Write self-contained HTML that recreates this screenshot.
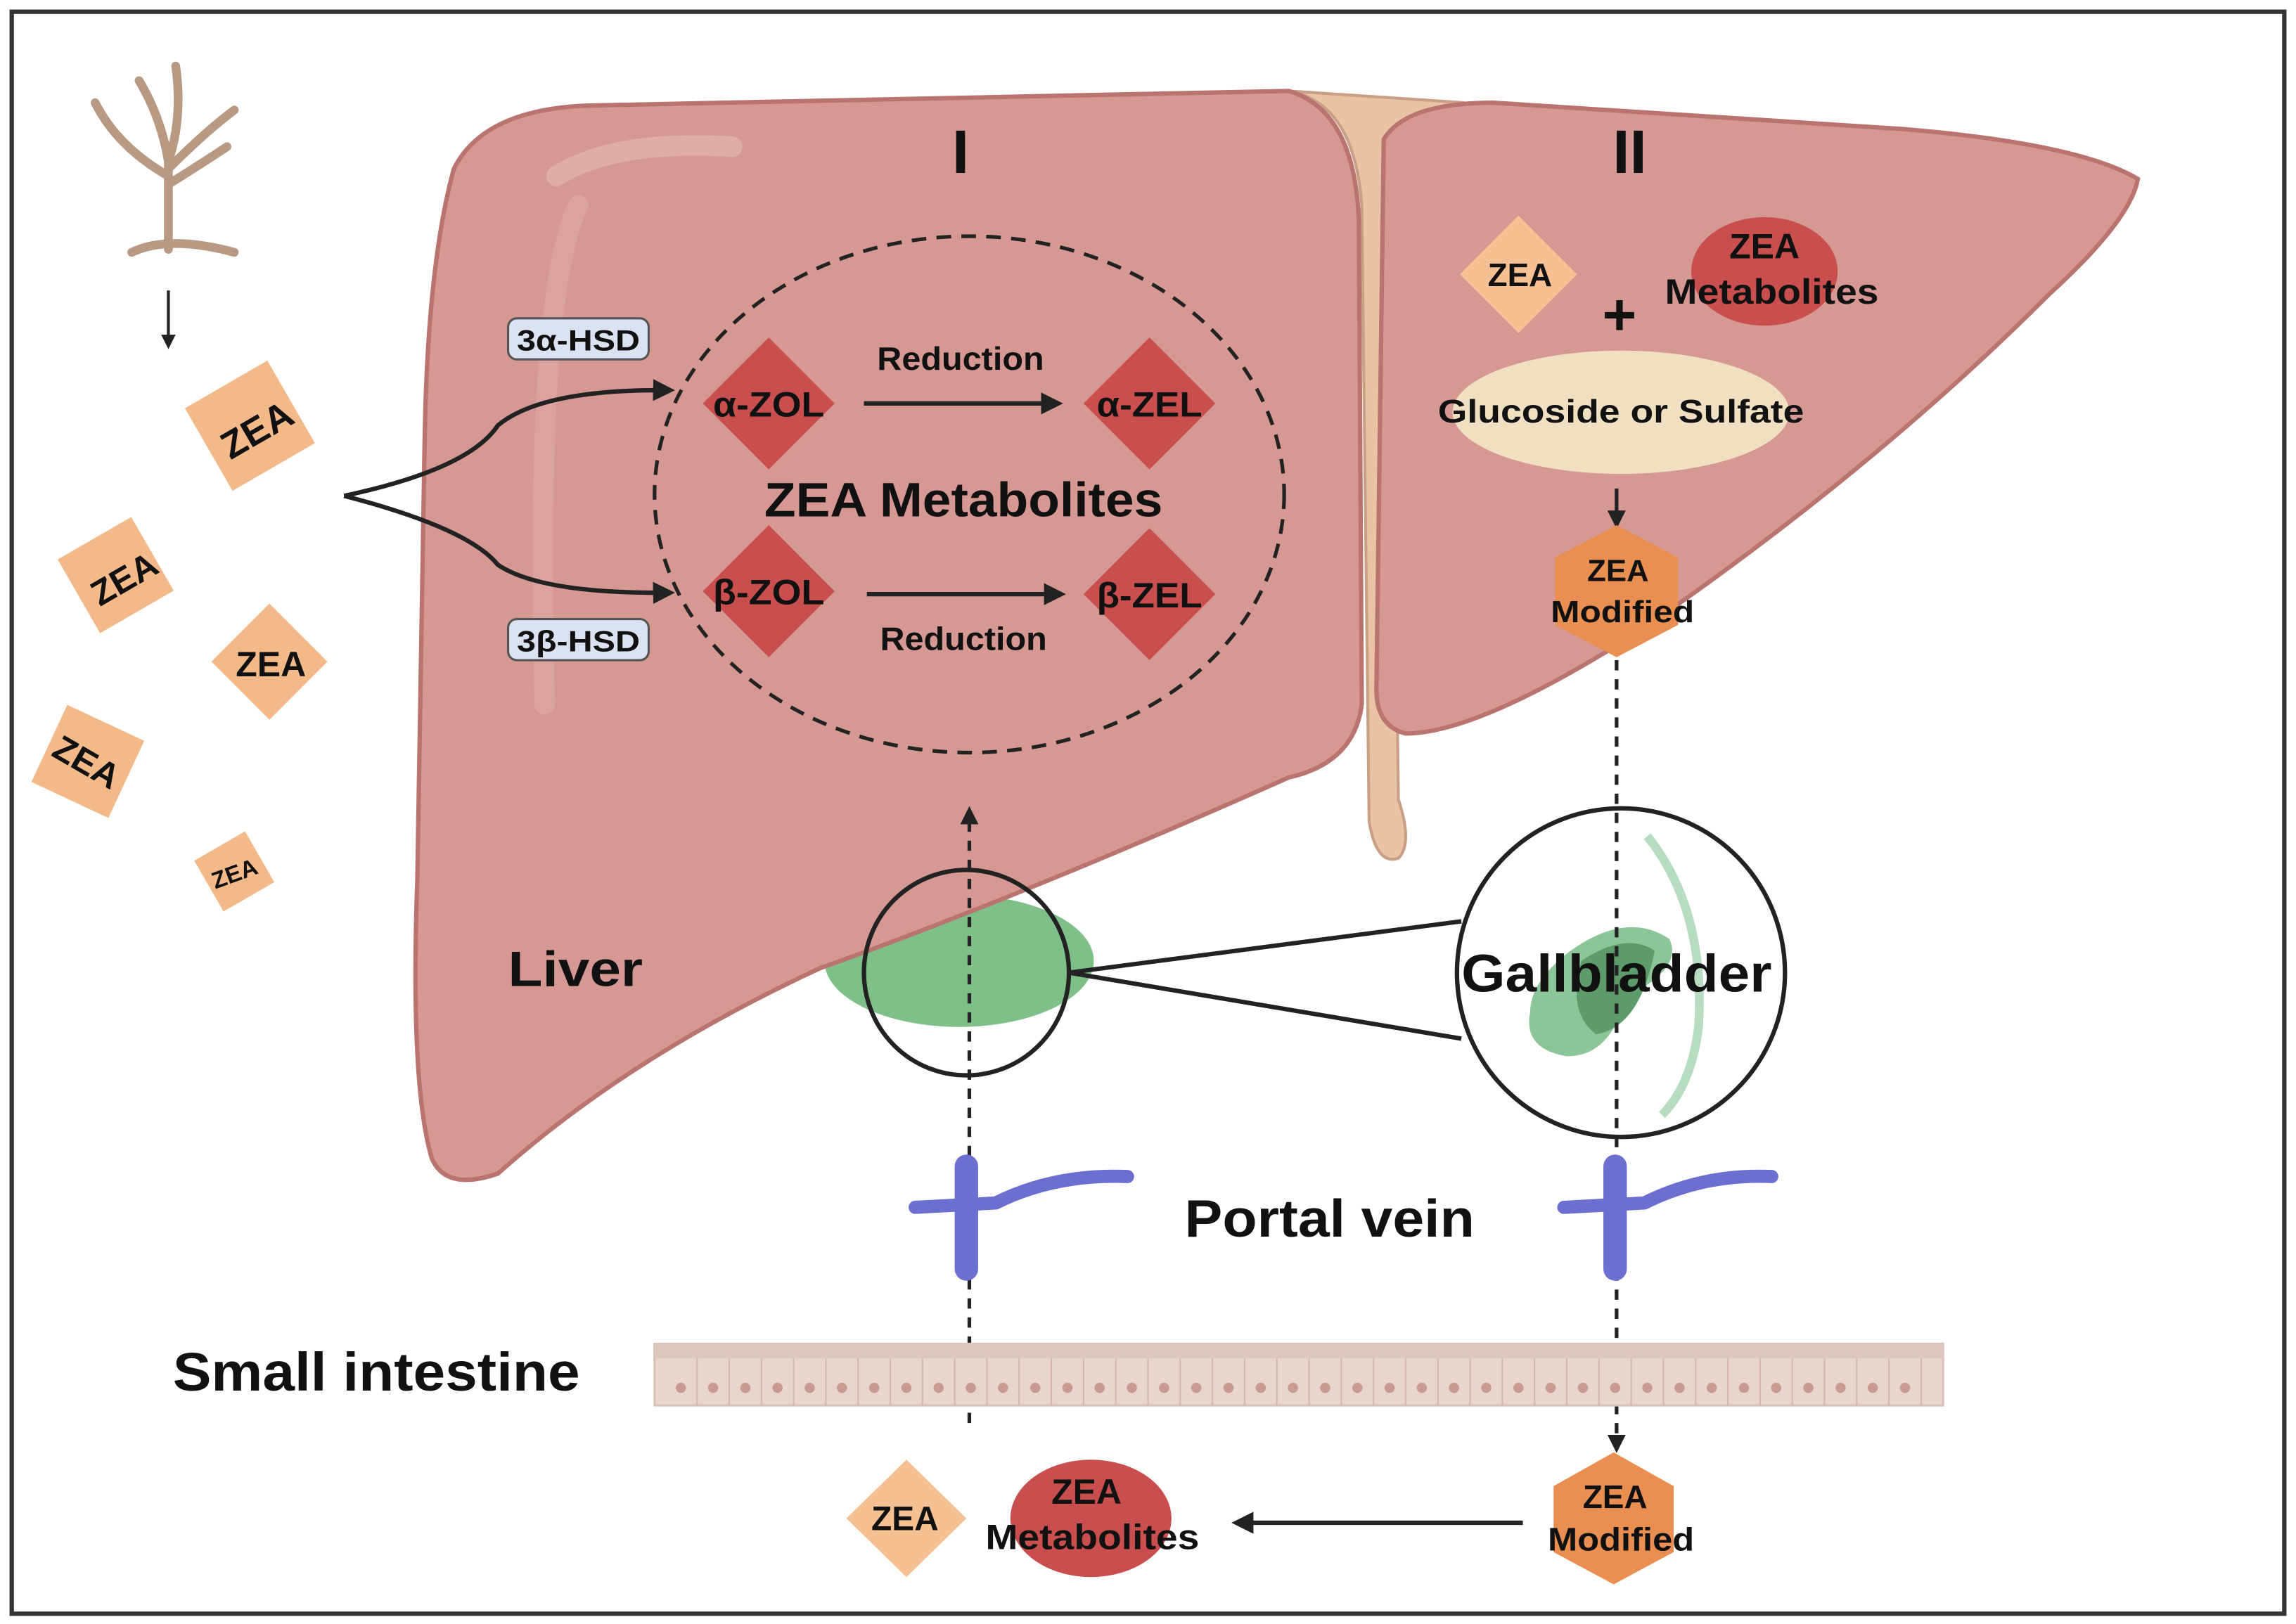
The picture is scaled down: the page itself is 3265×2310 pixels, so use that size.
<!DOCTYPE html>
<html><head><meta charset="utf-8"><style>
html,body{margin:0;padding:0;background:#fff}
svg{display:block}
text{font-family:"Liberation Sans",sans-serif;font-weight:bold;fill:#111}
</style></head><body>
<svg width="3265" height="2310" viewBox="0 0 1568 1107" preserveAspectRatio="none" xmlns="http://www.w3.org/2000/svg">
<defs>
<marker id="ah" viewBox="0 0 10 10" refX="8" refY="5" markerWidth="5" markerHeight="5" orient="auto"><path d="M0,0 L10,5 L0,10 z" fill="#222"/></marker>
</defs>
<rect x="8" y="8" width="1552" height="1092" fill="#fff" stroke="#333" stroke-width="3"/>

<!-- fungus -->
<g stroke="#b89a84" stroke-width="6" fill="none" stroke-linecap="round">
<path d="M115,170 L115,110 Q110,80 95,55"/><path d="M115,110 Q125,80 120,45"/><path d="M115,120 Q80,100 65,70"/><path d="M115,115 Q140,90 160,75"/><path d="M116,125 Q140,110 155,100"/><path d="M90,172 Q115,160 160,172"/>
</g>
<line x1="115" y1="198" x2="115" y2="236" stroke="#222" stroke-width="2" marker-end="url(#ah)"/>

<!-- ZEA diamonds left -->
<g fill="#f3b988">
<rect x="138" y="258" width="65" height="65" transform="rotate(-30 170 290)"/>
<rect x="50" y="363" width="58" height="58" transform="rotate(-30 79 392)"/>
<rect x="156" y="423" width="56" height="56" transform="rotate(45 184 451)"/>
<rect x="31" y="490" width="58" height="58" transform="rotate(25 60 519)"/>
<rect x="140" y="574" width="40" height="40" transform="rotate(-30 160 594)"/>
</g>
<text x="175" y="302" font-size="26" text-anchor="middle" transform="rotate(-30 175 292)">ZEA</text>
<text x="84" y="403" font-size="24" text-anchor="middle" transform="rotate(-30 84 393)">ZEA</text>
<text x="185" y="461" font-size="24" text-anchor="middle">ZEA</text>
<text x="60" y="528" font-size="24" text-anchor="middle" transform="rotate(30 60 518)">ZEA</text>
<text x="160" y="601" font-size="16" text-anchor="middle" transform="rotate(-20 160 595)">ZEA</text>

<!-- gallbladder under liver -->
<ellipse cx="655" cy="655" rx="92" ry="45" fill="#7fbf8a"/>

<!-- ligament -->
<path d="M880,62 Q925,70 930,140 L935,560 Q940,590 955,585 Q965,575 955,545 L950,150 Q955,85 1000,70 Z" fill="#e8c3a6" stroke="#c9a086" stroke-width="2"/>

<!-- left lobe -->
<path d="M310,115 Q330,75 400,72 L880,62 Q925,75 928,150 L930,480 Q925,520 880,530 Q700,610 560,660 Q430,720 340,800 Q305,812 295,790 Q280,740 285,600 L290,300 Q292,180 310,115 Z" fill="#d59893" stroke="#b97470" stroke-width="3"/>
<path d="M380,120 Q420,95 500,100" stroke="#e0aca7" stroke-width="14" fill="none" stroke-linecap="round"/>
<path d="M395,140 Q365,200 372,480" stroke="#dba39f" stroke-width="14" fill="none" stroke-linecap="round"/>
<!-- right lobe -->
<path d="M945,95 Q960,70 1020,70 L1300,88 Q1420,98 1460,122 Q1455,150 1400,200 Q1280,320 1120,430 Q1010,500 960,500 Q940,495 940,470 Z" fill="#d59893" stroke="#b97470" stroke-width="3"/>

<!-- section labels -->
<text x="656" y="118" font-size="42" text-anchor="middle" font-weight="normal">I</text>
<text x="1113" y="118" font-size="42" text-anchor="middle">II</text>

<!-- dashed circle -->
<ellipse cx="662" cy="337" rx="215" ry="176" fill="none" stroke="#222" stroke-width="2.5" stroke-dasharray="10,7"/>

<!-- HSD boxes -->
<rect x="347" y="217" width="96" height="28" rx="6" fill="#dbe3f3" stroke="#555" stroke-width="1.5"/>
<text x="395" y="239" font-size="20" text-anchor="middle" textLength="84" lengthAdjust="spacingAndGlyphs">3α-HSD</text>
<rect x="347" y="422" width="96" height="28" rx="6" fill="#dbe3f3" stroke="#555" stroke-width="1.5"/>
<text x="395" y="444" font-size="20" text-anchor="middle" textLength="84" lengthAdjust="spacingAndGlyphs">3β-HSD</text>

<!-- branching arrow -->
<path d="M235,338 Q320,320 340,290 Q370,265 458,266" fill="none" stroke="#222" stroke-width="3" marker-end="url(#ah)"/>
<path d="M235,338 Q320,360 340,385 Q370,405 458,404" fill="none" stroke="#222" stroke-width="3" marker-end="url(#ah)"/>

<!-- metabolite diamonds -->
<g fill="#c84f4d">
<path d="M525,230 L570,275 L525,320 L480,275 Z"/>
<path d="M785,230 L830,275 L785,320 L740,275 Z"/>
<path d="M525,358 L570,403 L525,448 L480,403 Z"/>
<path d="M785,360 L830,405 L785,450 L740,405 Z"/>
</g>
<text x="525" y="284" font-size="24" text-anchor="middle" textLength="76" lengthAdjust="spacingAndGlyphs">α-ZOL</text>
<text x="785" y="284" font-size="24" text-anchor="middle" textLength="72" lengthAdjust="spacingAndGlyphs">α-ZEL</text>
<text x="525" y="412" font-size="24" text-anchor="middle" textLength="76" lengthAdjust="spacingAndGlyphs">β-ZOL</text>
<text x="785" y="414" font-size="24" text-anchor="middle" textLength="72" lengthAdjust="spacingAndGlyphs">β-ZEL</text>
<line x1="590" y1="275" x2="723" y2="275" stroke="#222" stroke-width="3" marker-end="url(#ah)"/>
<line x1="592" y1="405" x2="725" y2="405" stroke="#222" stroke-width="3" marker-end="url(#ah)"/>
<text x="656" y="252" font-size="22" text-anchor="middle" textLength="114" lengthAdjust="spacingAndGlyphs">Reduction</text>
<text x="658" y="443" font-size="22" text-anchor="middle" textLength="114" lengthAdjust="spacingAndGlyphs">Reduction</text>
<text x="658" y="352" font-size="33" text-anchor="middle" textLength="272" lengthAdjust="spacingAndGlyphs">ZEA Metabolites</text>

<!-- right lobe content -->
<path d="M1037,147 L1077,187 L1037,227 L997,187 Z" fill="#f6c192"/>
<text x="1038" y="195" font-size="22" text-anchor="middle">ZEA</text>
<ellipse cx="1205" cy="185" rx="50" ry="37" fill="#c84f4d"/>
<text x="1205" y="176" font-size="24" text-anchor="middle">ZEA</text>
<text x="1210" y="207" font-size="24" text-anchor="middle" textLength="146" lengthAdjust="spacingAndGlyphs">Metabolites</text>
<text x="1106" y="228" font-size="40" text-anchor="middle" font-weight="normal">+</text>
<ellipse cx="1107" cy="281" rx="115" ry="42" fill="#f1dfc2"/>
<text x="1107" y="288" font-size="22" text-anchor="middle" textLength="250" lengthAdjust="spacingAndGlyphs">Glucoside or Sulfate</text>
<line x1="1104" y1="333" x2="1104" y2="358" stroke="#222" stroke-width="2.5" marker-end="url(#ah)"/>
<path d="M1104,358 L1146,380 L1146,426 L1104,448 L1062,426 L1062,380 Z" fill="#e98f52"/>
<text x="1105" y="396" font-size="21" text-anchor="middle">ZEA</text>
<text x="1108" y="424" font-size="21" text-anchor="middle" textLength="98" lengthAdjust="spacingAndGlyphs">Modified</text>

<!-- liver label -->
<text x="393" y="672" font-size="34" text-anchor="middle" textLength="92" lengthAdjust="spacingAndGlyphs">Liver</text>

<!-- zoom circles -->
<ellipse cx="660" cy="663" rx="70" ry="70" fill="none" stroke="#222" stroke-width="3"/>
<line x1="730" y1="663" x2="998" y2="628" stroke="#222" stroke-width="3"/>
<line x1="730" y1="663" x2="998" y2="708" stroke="#222" stroke-width="3"/>
<circle cx="1107" cy="663" r="112" fill="#fff" stroke="#222" stroke-width="3"/>
<path d="M1125,570 Q1165,620 1160,700 Q1155,740 1135,760" stroke="#b7dcc0" stroke-width="6" fill="none"/>
<path d="M1070,650 Q1110,620 1140,640 Q1150,660 1110,680 Q1100,720 1070,720 Q1040,715 1045,690 Q1045,670 1070,650 Z" fill="#8cc597"/>
<path d="M1080,655 Q1110,635 1130,648 Q1120,700 1090,705 Q1070,690 1080,655 Z" fill="#5e9b6b"/>
<text x="1104" y="676" font-size="36" text-anchor="middle" textLength="212" lengthAdjust="spacingAndGlyphs">Gallbladder</text>

<!-- dashed arrows -->
<line x1="662" y1="970" x2="662" y2="552" stroke="#222" stroke-width="2.5" stroke-dasharray="7,6" marker-end="url(#ah)"/>
<line x1="1104" y1="450" x2="1104" y2="988" stroke="#222" stroke-width="2.5" stroke-dasharray="7,6" marker-end="url(#ah)"/>

<!-- portal veins -->
<g fill="none" stroke="#6a6fd0" stroke-linecap="round">
<path d="M660,795 L660,865" stroke-width="16"/>
<path d="M625,823 L680,820 Q720,800 770,802" stroke-width="9"/>
<path d="M1103,795 L1103,865" stroke-width="16"/>
<path d="M1068,823 L1123,820 Q1163,800 1210,802" stroke-width="9"/>
</g>
<text x="908" y="843" font-size="36" text-anchor="middle" textLength="198" lengthAdjust="spacingAndGlyphs">Portal vein</text>

<!-- small intestine -->
<text x="257" y="948" font-size="37" text-anchor="middle" textLength="278" lengthAdjust="spacingAndGlyphs">Small intestine</text>
<rect x="447" y="916" width="880" height="42" fill="#e8d6ce" stroke="#d9c2b9" stroke-width="1.5"/>
<rect x="447" y="916" width="880" height="10" fill="#dcc8bf"/>
<g fill="#c99a93">
<circle cx="465" cy="946" r="3.5"/><circle cx="487" cy="946" r="3.5"/><circle cx="509" cy="946" r="3.5"/><circle cx="531" cy="946" r="3.5"/><circle cx="553" cy="946" r="3.5"/><circle cx="575" cy="946" r="3.5"/><circle cx="597" cy="946" r="3.5"/><circle cx="619" cy="946" r="3.5"/><circle cx="641" cy="946" r="3.5"/><circle cx="663" cy="946" r="3.5"/><circle cx="685" cy="946" r="3.5"/><circle cx="707" cy="946" r="3.5"/><circle cx="729" cy="946" r="3.5"/><circle cx="751" cy="946" r="3.5"/><circle cx="773" cy="946" r="3.5"/><circle cx="795" cy="946" r="3.5"/><circle cx="817" cy="946" r="3.5"/><circle cx="839" cy="946" r="3.5"/><circle cx="861" cy="946" r="3.5"/><circle cx="883" cy="946" r="3.5"/><circle cx="905" cy="946" r="3.5"/><circle cx="927" cy="946" r="3.5"/><circle cx="949" cy="946" r="3.5"/><circle cx="971" cy="946" r="3.5"/><circle cx="993" cy="946" r="3.5"/><circle cx="1015" cy="946" r="3.5"/><circle cx="1037" cy="946" r="3.5"/><circle cx="1059" cy="946" r="3.5"/><circle cx="1081" cy="946" r="3.5"/><circle cx="1103" cy="946" r="3.5"/><circle cx="1125" cy="946" r="3.5"/><circle cx="1147" cy="946" r="3.5"/><circle cx="1169" cy="946" r="3.5"/><circle cx="1191" cy="946" r="3.5"/><circle cx="1213" cy="946" r="3.5"/><circle cx="1235" cy="946" r="3.5"/><circle cx="1257" cy="946" r="3.5"/><circle cx="1279" cy="946" r="3.5"/><circle cx="1301" cy="946" r="3.5"/>
</g>
<g stroke="#d2b8ad" stroke-width="1">
<line x1="476" y1="926" x2="476" y2="958"/><line x1="498" y1="926" x2="498" y2="958"/><line x1="520" y1="926" x2="520" y2="958"/><line x1="542" y1="926" x2="542" y2="958"/><line x1="564" y1="926" x2="564" y2="958"/><line x1="586" y1="926" x2="586" y2="958"/><line x1="608" y1="926" x2="608" y2="958"/><line x1="630" y1="926" x2="630" y2="958"/><line x1="652" y1="926" x2="652" y2="958"/><line x1="674" y1="926" x2="674" y2="958"/><line x1="696" y1="926" x2="696" y2="958"/><line x1="718" y1="926" x2="718" y2="958"/><line x1="740" y1="926" x2="740" y2="958"/><line x1="762" y1="926" x2="762" y2="958"/><line x1="784" y1="926" x2="784" y2="958"/><line x1="806" y1="926" x2="806" y2="958"/><line x1="828" y1="926" x2="828" y2="958"/><line x1="850" y1="926" x2="850" y2="958"/><line x1="872" y1="926" x2="872" y2="958"/><line x1="894" y1="926" x2="894" y2="958"/><line x1="916" y1="926" x2="916" y2="958"/><line x1="938" y1="926" x2="938" y2="958"/><line x1="960" y1="926" x2="960" y2="958"/><line x1="982" y1="926" x2="982" y2="958"/><line x1="1004" y1="926" x2="1004" y2="958"/><line x1="1026" y1="926" x2="1026" y2="958"/><line x1="1048" y1="926" x2="1048" y2="958"/><line x1="1070" y1="926" x2="1070" y2="958"/><line x1="1092" y1="926" x2="1092" y2="958"/><line x1="1114" y1="926" x2="1114" y2="958"/><line x1="1136" y1="926" x2="1136" y2="958"/><line x1="1158" y1="926" x2="1158" y2="958"/><line x1="1180" y1="926" x2="1180" y2="958"/><line x1="1202" y1="926" x2="1202" y2="958"/><line x1="1224" y1="926" x2="1224" y2="958"/><line x1="1246" y1="926" x2="1246" y2="958"/><line x1="1268" y1="926" x2="1268" y2="958"/><line x1="1290" y1="926" x2="1290" y2="958"/><line x1="1312" y1="926" x2="1312" y2="958"/>
</g>

<!-- bottom row -->
<path d="M619,995 L660,1035 L619,1075 L578,1035 Z" fill="#f6c192"/>
<text x="618" y="1043" font-size="23" text-anchor="middle">ZEA</text>
<ellipse cx="745" cy="1035" rx="55" ry="40" fill="#c84f4d"/>
<text x="742" y="1025" font-size="24" text-anchor="middle">ZEA</text>
<text x="746" y="1056" font-size="24" text-anchor="middle" textLength="146" lengthAdjust="spacingAndGlyphs">Metabolites</text>
<line x1="1040" y1="1038" x2="844" y2="1038" stroke="#222" stroke-width="3" marker-end="url(#ah)"/>
<path d="M1102,990 L1143,1013 L1143,1058 L1102,1080 L1061,1058 L1061,1013 Z" fill="#e98f52"/>
<text x="1103" y="1028" font-size="22" text-anchor="middle">ZEA</text>
<text x="1107" y="1057" font-size="22" text-anchor="middle" textLength="100" lengthAdjust="spacingAndGlyphs">Modified</text>
</svg>
</body></html>
